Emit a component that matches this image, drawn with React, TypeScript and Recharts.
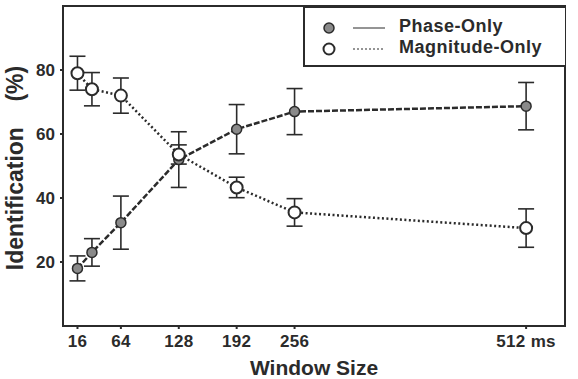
import React from 'react';
import { LineChart, Line, XAxis, YAxis, ErrorBar, Label, ReferenceArea } from 'recharts';

const windowSizes = [16, 32, 64, 128, 192, 256, 512];
const phaseOnly = [18, 23, 32.3, 52, 61.5, 67, 68.7];
const phaseErr = [3.9, 4.3, 8.3, 8.7, 7.7, 7.2, 7.4];
const magnitudeOnly = [79, 74, 72, 53.6, 43.3, 35.5, 30.6];
const magnitudeErr = [5.3, 5.2, 5.5, 3, 3.2, 4.3, 6];
const xTicks = [16, 64, 128, 192, 256, 512];
const yTicks = [20, 40, 60, 80];

const data = windowSizes.map((w, i) => ({
  size: w,
  phase: phaseOnly[i],
  phaseErr: phaseErr[i],
  magnitude: magnitudeOnly[i],
  magnitudeErr: magnitudeErr[i],
}));

const ink = '#2b2b2b';
const font = '"Liberation Sans", Arial, sans-serif';
const xMax = 555;

const YTitle = (props: any) => {
  const { viewBox } = props;
  const cy = viewBox.y + viewBox.height / 2 + 2;
  return (
    <text
      x={23}
      y={cy}
      transform={`rotate(-90, 23, ${cy})`}
      textAnchor="middle"
      fontFamily={font}
      fontWeight="bold"
      fontSize={23}
      fill={ink}
    >
      {'Identification\u00a0\u00a0\u00a0\u00a0(%)'}
    </text>
  );
};

const LegendBox = () => (
  <div
    style={{
      position: 'absolute',
      left: 303,
      top: 6,
      width: 262,
      height: 61,
      border: `2px solid ${ink}`,
      borderRight: 'none',
      background: '#fff',
      boxSizing: 'border-box',
      fontFamily: font,
      fontWeight: 'bold',
      fontSize: 18,
      letterSpacing: 0.5,
      color: ink,
    }}
  >
    <svg width={90} height={58} style={{ position: 'absolute', left: 12, top: 0 }}>
      <circle cx={12} cy={20} r={5} fill="#8a8a8a" stroke={ink} strokeWidth={1.5} />
      <line x1={36} y1={20} x2={68} y2={20} stroke={ink} strokeWidth={1} />
      <circle cx={12} cy={41} r={5.5} fill="#fff" stroke={ink} strokeWidth={2} />
      <line x1={36} y1={41} x2={68} y2={41} stroke={ink} strokeWidth={1} strokeDasharray="2 2" />
    </svg>
    <div style={{ position: 'absolute', left: 94, top: 8, lineHeight: '21px' }}>
      <div>Phase-Only</div>
      <div>Magnitude-Only</div>
    </div>
  </div>
);

export default function App() {
  return (
    <div style={{ position: 'absolute', left: 0, top: 0, width: 578, height: 379, background: '#fff' }}>
      <LineChart width={578} height={379} data={data} margin={{ top: 6, right: 13, bottom: 0, left: 0 }}>
        <XAxis
          dataKey="size"
          type="number"
          domain={[0, xMax]}
          ticks={xTicks}
          tickFormatter={(v: number) => (v === 512 ? '512 ms' : String(v))}
          height={53}
          stroke={ink}
          strokeWidth={2}
          tickSize={3}
          tick={{ fill: ink, fontFamily: font, fontWeight: 'bold', fontSize: 17, letterSpacing: 0.3 }}
          tickMargin={6}
        >
          <Label
            value="Window Size"
            position="insideBottom"
            offset={4}
            fill={ink}
            fontFamily={font}
            fontWeight="bold"
            fontSize={21}
          />
        </XAxis>
        <YAxis
          type="number"
          domain={[0, 100]}
          ticks={yTicks}
          width={63}
          stroke={ink}
          strokeWidth={2}
          tickSize={3}
          tickMargin={5}
          tick={{ fill: ink, fontFamily: font, fontWeight: 'bold', fontSize: 17 }}
        >
          <Label content={<YTitle />} />
        </YAxis>
        <ReferenceArea x1={0} x2={xMax} y1={0} y2={100} fill="none" stroke={ink} strokeWidth={2} ifOverflow="visible" />
        <Line
          dataKey="phase"
          type="linear"
          stroke={ink}
          strokeWidth={2.5}
          strokeDasharray="6 2"
          dot={{ r: 5, fill: '#8a8a8a', stroke: ink, strokeWidth: 1.5, strokeDasharray: 'none' }}
          isAnimationActive={false}
        >
          <ErrorBar dataKey="phaseErr" direction="y" width={8} stroke={ink} strokeWidth={1.6} />
        </Line>
        <Line
          dataKey="magnitude"
          type="linear"
          stroke={ink}
          strokeWidth={2.5}
          strokeDasharray="2 2.5"
          dot={{ r: 6, fill: '#fff', stroke: ink, strokeWidth: 2, strokeDasharray: 'none' }}
          isAnimationActive={false}
        >
          <ErrorBar dataKey="magnitudeErr" direction="y" width={8} stroke={ink} strokeWidth={1.6} />
        </Line>
      </LineChart>
      <LegendBox />
    </div>
  );
}
